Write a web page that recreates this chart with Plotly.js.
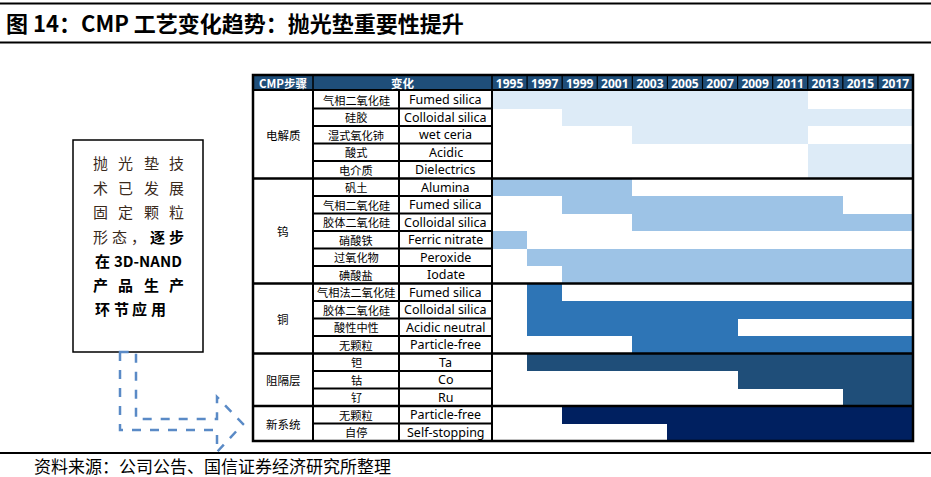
<!DOCTYPE html>
<html>
<head>
<meta charset="utf-8">
<script src="https://cdn.plot.ly/plotly-3.0.1.min.js"></script>
<style>html,body{margin:0;padding:0;background:#fff;}#chart{width:931px;height:477px;}</style>
</head>
<body>
<div id="chart"></div>
<script>
// ---------------- data ----------------
const years = ['1995','1997','1999','2001','2003','2005','2007','2009','2011','2013','2015','2017'];
const steps = ['电解质','钨','铜','阻隔层','新系统'];
const stepColors = ['#DDEBF7','#9DC3E6','#2E75B6','#1F4E79','#002060'];
const rowGroup = [0,0,0,0,0, 1,1,1,1,1,1, 2,2,2,2, 3,3,3, 4,4];
const rowZh = ['气相二氧化硅','硅胶','湿式氧化铈','酸式','电介质',
               '矾土','气相二氧化硅','胶体二氧化硅','硝酸铁','过氧化物','碘酸盐',
               '气相法二氧化硅','胶体二氧化硅','酸性中性','无颗粒',
               '钽','钴','钌',
               '无颗粒','自停'];
const rowEn = ['Fumed silica','Colloidal silica','wet ceria','Acidic','Dielectrics',
               'Alumina','Fumed silica','Colloidal silica','Ferric nitrate','Peroxide','Iodate',
               'Fumed silica','Colloidal silica','Acidic neutral','Particle-free',
               'Ta','Co','Ru',
               'Particle-free','Self-stopping'];
const startYear = ['1995','1999','2003','2013','2013',
                   '1995','1999','2003','1995','1997','1999',
                   '1997','1997','1997','2003',
                   '1997','2009','2015',
                   '1999','2005'];
const endYear   = ['2011','2017','2011','2017','2017',
                   '2001','2013','2017','1995','2017','2017',
                   '1997','2017','2007','2017',
                   '2017','2017','2017',
                   '2017','2017'];
const headStep = 'CMP步骤';
const headChange = '变化';
const titleText = '图 14：CMP 工艺变化趋势：抛光垫重要性提升';
const sourceText = '资料来源：公司公告、国信证券经济研究所整理';
const boxLines = [['抛','光','垫','技'],['术','已','发','展'],['固','定','颗','粒'],['形','态','，','逐','步'],['在','3D-NAND'],['产','品','生','产'],['环','节','应','用']];
const boxBold =  [[0,0,0,0],[0,0,0,0],[0,0,0,0],[0,0,0,1,1],[1,1],[1,1,1,1],[1,1,1,1]];

// ---------------- geometry helpers ----------------
const L = 492, R = 913, T = 91, B = 441;
const px = x => (x - L) / (R - L);
const py = y => (B - y) / (B - T);
const FONT = '"Noto Sans CJK SC", "Noto Sans", sans-serif';

// ---------------- traces ----------------
const traces = steps.map((s, g) => {
  const idx = rowGroup.map((v, i) => v === g ? i : -1).filter(i => i >= 0);
  const base = idx.map(i => years.indexOf(startYear[i]));
  const len = idx.map(i => years.indexOf(endYear[i]) + 1 - years.indexOf(startYear[i]));
  return {
    type: 'bar', orientation: 'h', name: s,
    y: idx, x: len, base: base, width: 1,
    marker: {color: stepColors[g], line: {width: 0}},
    hoverinfo: 'skip', showlegend: false
  };
});

// ---------------- shapes ----------------
const shapes = [];
const blk = (w) => ({color: '#000', width: w});
// header background (below so axis tick labels stay visible)
shapes.push({type:'rect', xref:'paper', yref:'paper', x0:px(253), x1:1, y0:py(90), y1:py(75), fillcolor:'#1F4E79', line:{width:0}, layer:'below'});
// header separators
shapes.push({type:'line', xref:'paper', yref:'paper', x0:px(313), x1:px(313), y0:py(90), y1:py(75), line:blk(1.5), layer:'above'});
shapes.push({type:'line', xref:'paper', yref:'paper', x0:0, x1:0, y0:py(90), y1:py(75), line:blk(1.5), layer:'above'});
for (let k = 1; k < years.length; k++) {
  shapes.push({type:'line', xref:'x', yref:'paper', x0:k, x1:k, y0:py(90), y1:py(75), line:blk(1.2), layer:'above'});
}
shapes.push({type:'line', xref:'paper', yref:'paper', x0:px(253), x1:1, y0:py(90), y1:py(90), line:blk(2.2), layer:'above'});
// row separators in name columns and group separators
for (let i = 1; i < rowZh.length; i++) {
  if (rowGroup[i] !== rowGroup[i-1]) {
    shapes.push({type:'line', xref:'paper', yref:'y', x0:px(253), x1:1, y0:i-0.5, y1:i-0.5, line:blk(2.5), layer:'above'});
  } else {
    shapes.push({type:'line', xref:'paper', yref:'y', x0:px(313), x1:px(492), y0:i-0.5, y1:i-0.5, line:blk(2), layer:'above'});
  }
}
// vertical column lines
[313, 399, 492].forEach(x => {
  shapes.push({type:'line', xref:'paper', yref:'paper', x0:px(x), x1:px(x), y0:0, y1:py(90), line:blk(2), layer:'above'});
});
// outline
shapes.push({type:'rect', xref:'paper', yref:'paper', x0:px(253), x1:1, y0:0, y1:py(75), line:blk(2.5), layer:'above'});
// page rules
[3.5, 42.5, 453].forEach(y => {
  shapes.push({type:'line', xref:'paper', yref:'paper', x0:px(0), x1:px(931), y0:py(y), y1:py(y), line:blk(2.2), layer:'above'});
});
// text box
shapes.push({type:'rect', xref:'paper', yref:'paper', x0:px(73), x1:px(203), y0:py(352), y1:py(140), fillcolor:'#fff', line:blk(1.5), layer:'above'});
// dashed arrow
const pts = [[120,352],[120,430],[217,430],[217,452],[243,424],[217,397],[217,419],[136,419],[136,352]];
const path = pts.map((p, i) => (i ? 'L' : 'M') + px(p[0]).toFixed(5) + ',' + py(p[1]).toFixed(5)).join(' ') + ' Z';
shapes.push({type:'path', xref:'paper', yref:'paper', path: path, line:{color:'#5A8AC6', width:2.5, dash:'dash'}, fillcolor:'rgba(0,0,0,0)', layer:'above'});

// ---------------- annotations ----------------
const ann = [];
const txt = (x, y, text, o) => Object.assign({xref:'paper', yref:'paper', x:x, y:y, text:text, showarrow:false,
  xanchor:'center', yanchor:'middle', font:{family:FONT, size:11, color:'#000'}}, o || {});
// header texts
ann.push(txt(px(283), py(82.5), '<b>' + headStep + '</b>', {font:{family:FONT, size:11.5, color:'#fff'}}));
ann.push(txt(px(402.5), py(82.5), '<b>' + headChange + '</b>', {font:{family:FONT, size:11.5, color:'#fff'}}));
// group labels
steps.forEach((s, g) => {
  const idx = rowGroup.map((v, i) => v === g ? i : -1).filter(i => i >= 0);
  const mid = (idx[0] + idx[idx.length-1]) / 2;
  ann.push(txt(px(283), mid, s, {yref:'y', font:{family:FONT, size:11.5, color:'#000'}}));
});
// row names
rowZh.forEach((z, i) => {
  ann.push(txt(px(356), i, z, {yref:'y', font:{family:FONT, size:11.2, color:'#000'}}));
  ann.push(txt(px(445.5), i, rowEn[i], {yref:'y', font:{family:'"Noto Sans", sans-serif', size:12.5, color:'#000'}}));
});
// title
ann.push(txt(px(4), py(22), '<b>' + titleText + '</b>', {xanchor:'left', font:{family:FONT, size:22, color:'#000'}}));
// source
ann.push(txt(px(32), py(465), sourceText, {xanchor:'left', font:{family:FONT, size:17, color:'#000'}}));
// box text (justified lines)
const lineY = [162, 187, 211, 236, 260, 284, 308];
const boxL = 93, boxR = 184, cw = 15;
boxLines.forEach((ln, r) => {
  const n = ln.length;
  ln.forEach((ch, k) => {
    let x, anchor;
    if (r === boxLines.length - 1) { x = boxL + k * 18.7; anchor = 'left'; }
    else if (n === 2) { x = k === 0 ? boxL : boxR; anchor = k === 0 ? 'left' : 'right'; }
    else { x = boxL + cw/2 + k * (boxR - boxL - cw) / (n - 1); anchor = 'center'; }
    const b = boxBold[r][k];
    ann.push(txt(px(x), py(lineY[r]), b ? '<b>' + ch + '</b>' : ch,
      {xanchor: anchor, font:{family:FONT, size:15, color: b ? '#000' : '#3a2a1c'}}));
  });
});

const layout = {
  width: 931, height: 477, autosize: false,
  margin: {l: L, r: 931 - R, t: T, b: 477 - B, pad: 0},
  paper_bgcolor: '#fff', plot_bgcolor: '#fff',
  barmode: 'overlay', bargap: 0,
  xaxis: {range: [0, years.length], side: 'top', tickvals: years.map((_, i) => i + 0.5), ticktext: years.map(y => '<b>' + y + '</b>'),
          ticks: '', showgrid: false, zeroline: false, showline: false, fixedrange: true,
          tickfont: {family: '"Noto Sans", sans-serif', size: 12, color: '#fff'}},
  yaxis: {range: [rowZh.length - 0.5, -0.5], showticklabels: false, showgrid: false, zeroline: false, showline: false, ticks: '', fixedrange: true},
  shapes: shapes, annotations: ann, showlegend: false
};
Plotly.newPlot('chart', traces, layout, {displayModeBar: false, staticPlot: true});
</script>
</body>
</html>
